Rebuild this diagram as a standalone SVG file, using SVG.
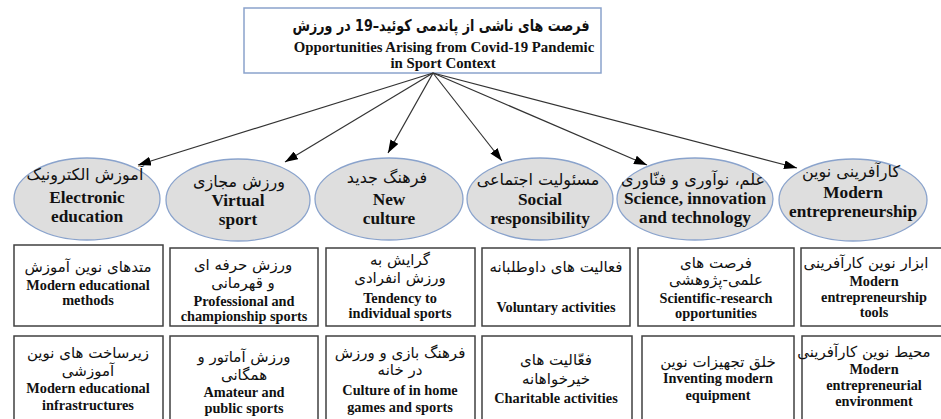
<svg xmlns="http://www.w3.org/2000/svg" width="941" height="419" viewBox="0 0 941 419">
<style>
.fa{font-family:"DejaVu Sans",sans-serif;direction:rtl;text-anchor:middle;fill:#111}
.en{font-family:"Liberation Serif",serif;font-weight:bold;text-anchor:middle;fill:#111}
.fe{font-size:16px}
.ee{font-size:17.3px}
.fb{font-size:15px}
.eb{font-size:14.3px}
.ell{fill:#dedede;stroke:#8aa3cc;stroke-width:1.3}
.box{fill:#fff;stroke:#404040;stroke-width:1.5}
.con{stroke:#333;stroke-width:1.2;fill:none;marker-end:url(#ah)}
</style>
<defs>
<marker id="ah" markerUnits="userSpaceOnUse" markerWidth="13" markerHeight="9" refX="13" refY="4.5" orient="auto">
<path d="M0,0 L13,4.5 L0,9 z" fill="#000"/>
</marker>
</defs>
<rect width="941" height="419" fill="#fff"/>
<g id="root">
<rect x="244" y="8" width="357" height="65" fill="#fff" stroke="#8aa3cc" stroke-width="1.5"/>
<text class="fa" x="441" y="31" font-size="16" font-weight="bold" textLength="297" lengthAdjust="spacingAndGlyphs">فرصت های ناشی از پاندمی کوئید–19 در ورزش</text>
<text class="en" x="444" y="52" font-size="14.8">Opportunities Arising from Covid-19 Pandemic</text>
<text class="en" x="443" y="68" font-size="14.8">in Sport Context</text>
</g>
<g id="connectors">
<line class="con" x1="433" y1="73" x2="138" y2="165"/>
<line class="con" x1="433" y1="73" x2="285" y2="162"/>
<line class="con" x1="433" y1="73" x2="388" y2="153"/>
<line class="con" x1="433" y1="73" x2="502" y2="161"/>
<line class="con" x1="433" y1="73" x2="647" y2="165"/>
<line class="con" x1="433" y1="73" x2="797" y2="168"/>
</g>
<g id="e1">
<ellipse class="ell" cx="87" cy="199" rx="73" ry="41"/>
<text class="fa fe" x="85" y="180">آموزش الکترونیک</text>
<text class="en ee" x="87" y="203">Electronic</text>
<text class="en ee" x="87" y="222">education</text>
</g>
<g id="e2">
<ellipse class="ell" cx="238" cy="200" rx="72" ry="41"/>
<text class="fa fe" x="239" y="187">ورزش مجازی</text>
<text class="en ee" x="238" y="206">Virtual</text>
<text class="en ee" x="238" y="225">sport</text>
</g>
<g id="e3">
<ellipse class="ell" cx="389" cy="199" rx="74" ry="41"/>
<text class="fa fe" x="387" y="183">فرهنگ جدید</text>
<text class="en ee" x="389" y="205">New</text>
<text class="en ee" x="389" y="224">culture</text>
</g>
<g id="e4">
<ellipse class="ell" cx="540" cy="199" rx="73" ry="41"/>
<text class="fa fe" x="538" y="185">مسئولیت اجتماعی</text>
<text class="en ee" x="540" y="205">Social</text>
<text class="en ee" x="540" y="224">responsibility</text>
</g>
<g id="e5">
<ellipse class="ell" cx="695" cy="199" rx="78" ry="41"/>
<text class="fa fe" x="693" y="185">علم، نوآوری و فنّاوری</text>
<text class="en ee" x="695" y="204">Science, innovation</text>
<text class="en ee" x="695" y="223">and technology</text>
</g>
<g id="e6">
<ellipse class="ell" cx="853" cy="200" rx="74" ry="41"/>
<text class="fa fe" x="851" y="177">کارآفرینی نوین</text>
<text class="en ee" x="853" y="198">Modern</text>
<text class="en ee" x="853" y="217">entrepreneurship</text>
</g>
<g id="b1">
<rect class="box" x="14" y="245" width="149" height="81"/>
<text class="fa fb" x="88" y="272">متدهای نوین آموزش</text>
<text class="en eb" x="88" y="290">Modern educational</text>
<text class="en eb" x="88" y="305">methods</text>
</g>
<g id="b2">
<rect class="box" x="170" y="248" width="148" height="78"/>
<text class="fa fb" x="243" y="270">ورزش حرفه ای</text>
<text class="fa fb" x="243" y="288">و قهرمانی</text>
<text class="en eb" x="244" y="306">Professional and</text>
<text class="en eb" x="244" y="321">championship sports</text>
</g>
<g id="b3">
<rect class="box" x="326" y="248" width="149" height="78"/>
<text class="fa fb" x="400" y="265">گرایش به</text>
<text class="fa fb" x="400" y="283">ورزش انفرادی</text>
<text class="en eb" x="400" y="303">Tendency to</text>
<text class="en eb" x="400" y="318">individual sports</text>
</g>
<g id="b4">
<rect class="box" x="482" y="248" width="148" height="78"/>
<text class="fa fb" x="556" y="272">فعالیت های داوطلبانه</text>
<text class="en eb" x="556" y="312">Voluntary activities</text>
</g>
<g id="b5">
<rect class="box" x="638" y="248" width="156" height="78"/>
<text class="fa fb" x="716" y="268">فرصت های</text>
<text class="fa fb" x="716" y="285">علمی-پژوهشی</text>
<text class="en eb" x="716" y="303">Scientific-research</text>
<text class="en eb" x="716" y="318">opportunities</text>
</g>
<g id="b6">
<rect class="box" x="801" y="248" width="150" height="78"/>
<text class="fa fb" x="866" y="268">ابزار نوین کارآفرینی</text>
<text class="en eb" x="874" y="286">Modern</text>
<text class="en eb" x="874" y="302">entrepreneurship</text>
<text class="en eb" x="874" y="317">tools</text>
</g>
<g id="b7">
<rect class="box" x="14" y="336" width="149" height="90"/>
<text class="fa fb" x="88" y="358">زیرساخت های نوین</text>
<text class="fa fb" x="88" y="376">آموزشی</text>
<text class="en eb" x="88" y="393">Modern educational</text>
<text class="en eb" x="88" y="410">infrastructures</text>
</g>
<g id="b8">
<rect class="box" x="170" y="336" width="148" height="90"/>
<text class="fa fb" x="244" y="362">ورزش آماتور و</text>
<text class="fa fb" x="244" y="380">همگانی</text>
<text class="en eb" x="244" y="397">Amateur and</text>
<text class="en eb" x="244" y="413">public sports</text>
</g>
<g id="b9">
<rect class="box" x="326" y="336" width="149" height="90"/>
<text class="fa fb" x="400" y="358">فرهنگ بازی و ورزش</text>
<text class="fa fb" x="400" y="375">در خانه</text>
<text class="en eb" x="400" y="395">Culture of in home</text>
<text class="en eb" x="400" y="412">games and sports</text>
</g>
<g id="b10">
<rect class="box" x="482" y="336" width="150" height="90"/>
<text class="fa fb" x="556" y="365">فعّالیت های</text>
<text class="fa fb" x="556" y="384">خیرخواهانه</text>
<text class="en eb" x="556" y="403">Charitable activities</text>
</g>
<g id="b11">
<rect class="box" x="642" y="336" width="152" height="90"/>
<text class="fa fb" x="718" y="367">خلق تجهیزات نوین</text>
<text class="en eb" x="718" y="383">Inventing modern</text>
<text class="en eb" x="718" y="400">equipment</text>
</g>
<g id="b12">
<rect class="box" x="802" y="336" width="150" height="90"/>
<text class="fa fb" x="864" y="357">محیط نوین کارآفرینی</text>
<text class="en eb" x="874" y="374">Modern</text>
<text class="en eb" x="874" y="390">entrepreneurial</text>
<text class="en eb" x="874" y="406">environment</text>
</g>
</svg>
